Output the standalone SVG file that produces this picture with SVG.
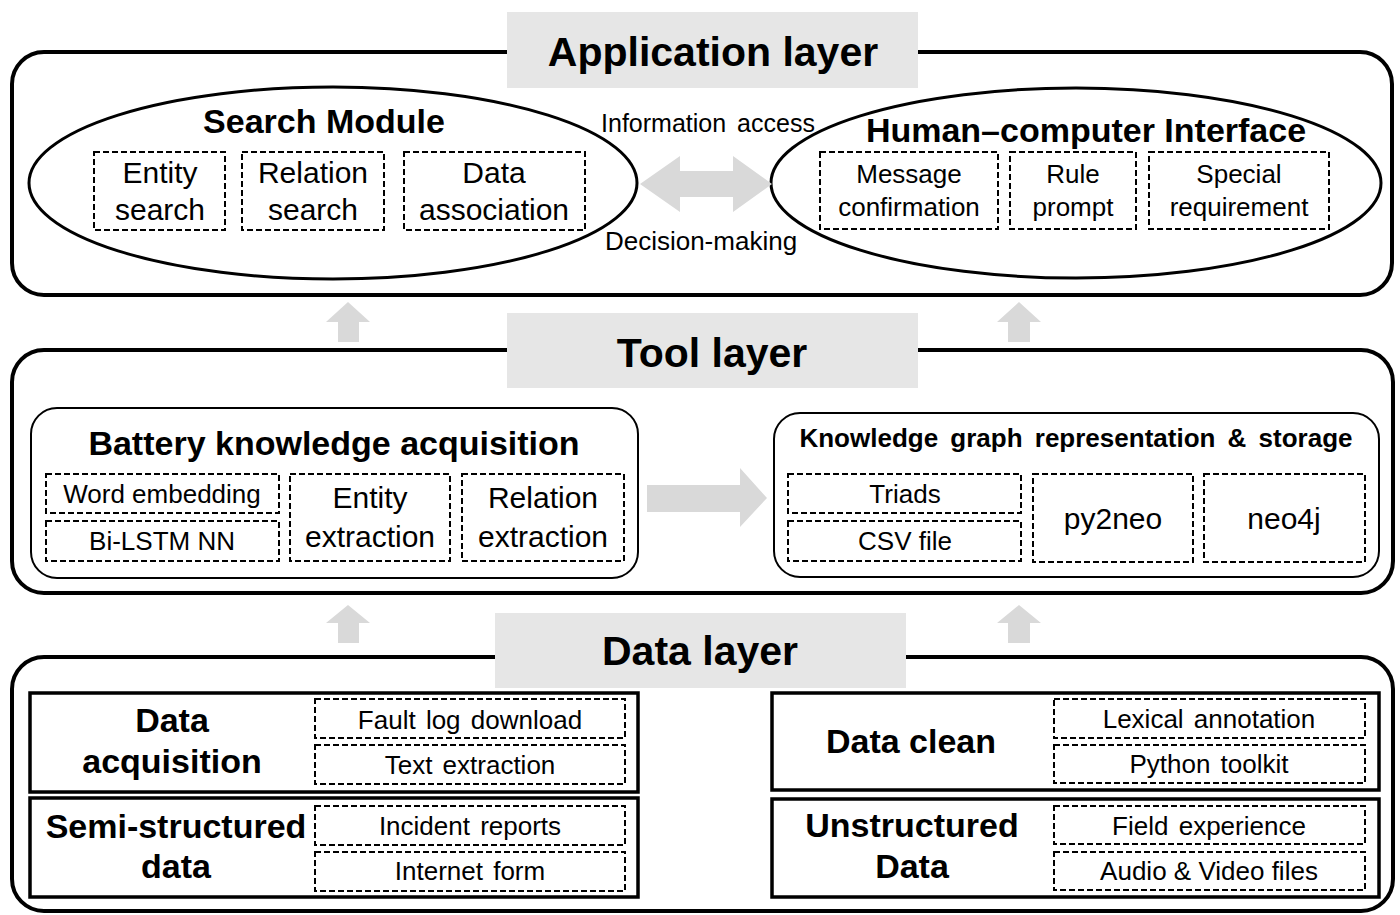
<svg xmlns="http://www.w3.org/2000/svg" width="1400" height="915" viewBox="0 0 1400 915">
<style>
text{font-family:"Liberation Sans",Arial,sans-serif;text-anchor:middle;fill:#000}
.layer{fill:#fff;stroke:#000;stroke-width:4}
.lbl{fill:#e6e6e6}
.big{font-size:41px;font-weight:bold}
.hd{font-size:34px;font-weight:bold}
.ell{fill:#fff;stroke:#000;stroke-width:3}
.inner{fill:#fff;stroke:#000;stroke-width:2}
.solid{fill:#fff;stroke:#000;stroke-width:3.5}
.dash{fill:#fff;stroke:#000;stroke-width:2;stroke-dasharray:6 3}
.arr{fill:#d9d9d9}
.r30{font-size:30px}
.r26{font-size:26px}
</style>

<g id="application-layer">
<rect class="layer" x="12" y="52" width="1380" height="243" rx="32"/>
<rect class="lbl" x="507" y="12" width="411" height="76"/>
<text class="big" x="713" y="66">Application layer</text>
</g>

<g id="search-module">
<ellipse class="ell" cx="333" cy="183" rx="304" ry="96"/>
<text class="hd" x="324" y="133">Search Module</text>
<rect class="dash" x="94" y="152" width="131" height="78"/>
<text class="r30" x="160" y="183">Entity</text>
<text class="r30" x="160" y="220">search</text>
<rect class="dash" x="242" y="152" width="142" height="78"/>
<text class="r30" x="313" y="183">Relation</text>
<text class="r30" x="313" y="220">search</text>
<rect class="dash" x="404" y="152" width="181" height="78"/>
<text class="r30" x="494" y="183">Data</text>
<text class="r30" x="494" y="220">association</text>
</g>

<g id="hci">
<ellipse class="ell" cx="1076" cy="183" rx="305" ry="95"/>
<text class="hd" x="1086" y="142">Human–computer Interface</text>
<rect class="dash" x="820" y="152" width="178" height="77"/>
<text class="r26" x="909" y="183">Message</text>
<text class="r26" x="909" y="216">confirmation</text>
<rect class="dash" x="1010" y="152" width="126" height="77"/>
<text class="r26" x="1073" y="183">Rule</text>
<text class="r26" x="1073" y="216">prompt</text>
<rect class="dash" x="1149" y="152" width="180" height="77"/>
<text class="r26" x="1239" y="183">Special</text>
<text class="r26" x="1239" y="216">requirement</text>
</g>

<g id="tool-layer">
<rect class="layer" x="12" y="350" width="1381" height="243" rx="32"/>
<rect class="lbl" x="507" y="313" width="411" height="75"/>
<text class="big" x="712" y="367">Tool layer</text>
</g>

<g id="battery-knowledge">
<rect class="inner" x="31" y="408" width="607" height="170" rx="26"/>
<text class="hd" x="334" y="455">Battery knowledge acquisition</text>
<rect class="dash" x="46" y="474" width="233" height="39"/>
<text class="r26" x="162" y="503">Word embedding</text>
<rect class="dash" x="46" y="521" width="233" height="40"/>
<text class="r26" x="162" y="550">Bi-LSTM NN</text>
<rect class="dash" x="290" y="474" width="160" height="87"/>
<text class="r30" x="370" y="508">Entity</text>
<text class="r30" x="370" y="547">extraction</text>
<rect class="dash" x="462" y="474" width="162" height="87"/>
<text class="r30" x="543" y="508">Relation</text>
<text class="r30" x="543" y="547">extraction</text>
</g>

<g id="kg-storage">
<rect class="inner" x="774" y="413" width="605" height="164" rx="26"/>
<text x="1076" y="447" style="font-size:26px;font-weight:bold;word-spacing:5px">Knowledge graph representation &amp; storage</text>
<rect class="dash" x="788" y="474" width="233" height="39"/>
<text class="r26" x="905" y="503">Triads</text>
<rect class="dash" x="788" y="521" width="233" height="40"/>
<text class="r26" x="905" y="550">CSV file</text>
<rect class="dash" x="1033" y="474" width="160" height="88"/>
<text class="r30" x="1113" y="529">py2neo</text>
<rect class="dash" x="1204" y="474" width="161" height="88"/>
<text class="r30" x="1284" y="529">neo4j</text>
</g>

<g id="data-layer">
<rect class="layer" x="12" y="657" width="1381" height="254" rx="32"/>
<rect class="lbl" x="495" y="613" width="411" height="75"/>
<text class="big" x="700" y="665">Data layer</text>
</g>

<g id="data-acquisition">
<rect class="solid" x="30" y="693" width="608" height="99"/>
<text class="hd" x="172" y="732">Data</text>
<text class="hd" x="172" y="773">acquisition</text>
<rect class="dash" x="315" y="699" width="310" height="39"/>
<text class="r26" x="470" y="729" style="word-spacing:3px">Fault log download</text>
<rect class="dash" x="315" y="745" width="310" height="39"/>
<text class="r26" x="470" y="774" style="word-spacing:3px">Text extraction</text>
</g>

<g id="semi-structured">
<rect class="solid" x="30" y="798" width="608" height="99"/>
<text class="hd" x="176" y="838">Semi-structured</text>
<text class="hd" x="176" y="878">data</text>
<rect class="dash" x="315" y="806" width="310" height="39"/>
<text class="r26" x="470" y="835" style="word-spacing:3px">Incident reports</text>
<rect class="dash" x="315" y="852" width="310" height="39"/>
<text class="r26" x="470" y="880" style="word-spacing:3px">Internet form</text>
</g>

<g id="data-clean">
<rect class="solid" x="772" y="693" width="607" height="97"/>
<text class="hd" x="911" y="753">Data clean</text>
<rect class="dash" x="1054" y="699" width="311" height="39"/>
<text class="r26" x="1209" y="728" style="word-spacing:3px">Lexical annotation</text>
<rect class="dash" x="1054" y="745" width="311" height="38"/>
<text class="r26" x="1209" y="773" style="word-spacing:3px">Python toolkit</text>
</g>

<g id="unstructured">
<rect class="solid" x="772" y="799" width="607" height="98"/>
<text class="hd" x="912" y="837">Unstructured</text>
<text class="hd" x="912" y="878">Data</text>
<rect class="dash" x="1054" y="806" width="311" height="38"/>
<text class="r26" x="1209" y="835" style="word-spacing:3px">Field experience</text>
<rect class="dash" x="1054" y="852" width="311" height="38"/>
<text class="r26" x="1209" y="880">Audio &amp; Video files</text>
</g>

<g id="connectors">
<polygon class="arr" points="640,184 680,156 680,171 733,171 733,156 772,184 733,212 733,197 680,197 680,212"/>
<text class="r26" x="708" y="132" style="font-size:25px;word-spacing:4px">Information access</text>
<text class="r26" x="701" y="250">Decision-making</text>
<polygon class="arr" points="348,302 370,322 359,322 359,342 338,342 338,322 326,322"/>
<polygon class="arr" points="1019,302 1041,322 1030,322 1030,342 1008,342 1008,322 997,322"/>
<polygon class="arr" points="647,485 740,485 740,468 767,498 740,527 740,512 647,512"/>
<polygon class="arr" points="348,605 370,623 359,623 359,643 338,643 338,623 326,623"/>
<polygon class="arr" points="1019,605 1041,623 1030,623 1030,643 1008,643 1008,623 997,623"/>
</g>
</svg>
